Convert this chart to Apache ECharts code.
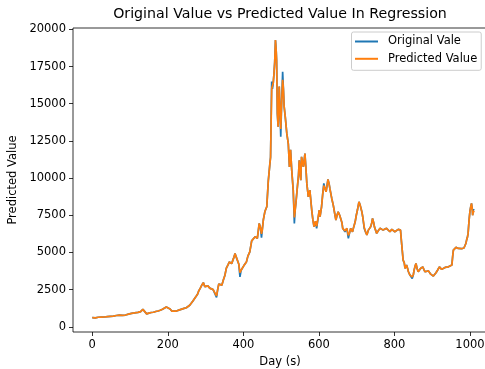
<!DOCTYPE html>
<html>
<head>
<meta charset="utf-8">
<script src="https://cdn.jsdelivr.net/npm/echarts@6/dist/echarts.min.js"></script>
<style>html,body{margin:0;padding:0;background:#fff}#c{width:485px;height:369px}</style>
</head>
<body>
<div id="c"></div>
<script>
const days = [0,8,16,24,32,40,48,56,64,72,80,88,96,104,112,121,128,134,139,144,150,156,162,168,174,180,186,191,196,201,206,211,216,221,226,231,237,243,249,254,258,262,266,270,275,279,282,286,290,294,298,302,306,311,316,320,325,329,332,335,339,343,347,351,355,359,363,369,374,378,381,384,388,391,394,398,401,404,408,412,417,422,426,431,437,440,442,445,448,450,453,457,462,466,470,472,475,477,479,481,483,485,487,488,490,492,495,497,499,501,504,506,508,511,515,519,522,525,528,532,535,537,539,543,546,548,552,554,559,563,566,568,572,576,581,584,587,591,594,598,601,603,607,610,613,616,619,624,627,629,634,638,642,645,648,651,655,658,661,663,666,669,674,678,681,684,689,692,696,699,702,706,709,711,714,716,720,724,727,731,734,737,740,742,745,747,750,753,757,762,766,770,775,779,783,788,793,797,801,806,810,813,816,819,823,826,828,832,835,837,841,844,847,850,852,855,857,860,863,866,869,872,875,878,881,885,890,893,896,900,903,906,910,914,919,922,925,930,934,938,943,948,952,954,956,960,963,966,969,972,974,978,981,984,987,989,991,993,995,997,998,1000,1002,1004,1006,1007,1009,1011];
const originalValues = [610,600,640,650,660,680,700,720,760,780,770,790,850,900,930,968,1020,1170,1020,870,920,960,980,1030,1060,1110,1180,1250,1330,1290,1200,1050,970,1050,1120,1140,1190,1240,1280,1350,1450,1560,1720,1850,2050,2200,2420,2600,2800,2970,2700,2650,2750,2600,2580,2500,2420,1980,2500,2880,2750,2800,3150,3450,3950,4150,4370,4250,4600,4930,4700,4650,4200,3360,3800,3850,4100,4000,4350,4750,5040,5780,5650,6050,5950,6550,6950,6700,6000,6500,7200,7750,8070,9800,10900,11400,16500,16000,16370,17000,17800,19280,18500,17900,14350,13450,16150,14500,12780,14800,17150,16000,14800,14100,13000,12300,10750,11900,10550,9190,6950,7800,8300,9400,10200,11200,9860,11430,10760,11650,10500,9640,8740,9190,7850,7200,6730,7100,6620,6700,7850,7400,8070,8900,9640,9300,9080,9910,9600,9300,8630,8180,7600,7170,7500,7730,7500,7620,7000,6620,6500,6390,6620,5950,6300,6620,6390,6700,7060,7500,7850,8400,8200,8070,7700,7400,6620,6350,6170,6500,6400,6720,7000,7290,7000,6720,6500,6280,6450,6620,6550,6500,6600,6620,6500,6390,6550,6550,6390,6450,6550,6480,6500,5600,4480,4300,3920,4150,3900,3700,3480,3400,3250,3500,3810,4100,4260,3900,3700,3800,3920,3950,4030,3850,3700,3650,3760,3650,3540,3500,3410,3500,3630,3800,4030,3950,3860,3950,3990,3950,4030,4050,4150,4700,5150,5250,5340,5300,5270,5350,5380,5250,5150,5300,5380,5600,5830,6000,6280,7000,7290,7800,8070,8300,7900,7500,7900,7850];
const predictedValues = [610,600,640,650,660,680,700,720,760,780,770,790,850,900,930,968,1020,1170,1020,870,920,960,980,1030,1060,1110,1180,1250,1330,1290,1200,1050,990,1050,1120,1140,1190,1240,1280,1350,1450,1560,1720,1850,2050,2200,2420,2600,2800,2970,2700,2650,2750,2600,2580,2500,2420,2080,2500,2880,2750,2800,3150,3450,3950,4150,4370,4250,4600,4930,4700,4650,4200,3650,3800,3850,4100,4000,4350,4750,5040,5780,5650,6050,5950,6550,6950,6700,6250,6500,7200,7750,8070,9800,10900,11400,16000,16000,16370,17000,17800,19280,18500,17900,14350,13450,16150,14500,13300,14800,16600,16000,14800,14100,13000,12300,10750,11900,10550,9190,7350,7800,8300,9400,10200,11200,9860,11430,10760,11650,10500,9640,8740,9190,7850,7200,6730,7100,6750,6700,7850,7400,8070,8900,9500,9300,9080,9910,9600,9300,8630,8180,7600,7170,7500,7730,7500,7620,7000,6620,6500,6450,6620,6150,6300,6620,6390,6700,7060,7500,7850,8400,8200,8070,7700,7400,6700,6350,6170,6500,6400,6720,7000,7290,7000,6720,6500,6280,6450,6620,6550,6500,6600,6620,6500,6390,6550,6550,6390,6450,6550,6480,6500,5600,4480,4300,3920,4150,3900,3700,3480,3400,3350,3500,3810,4100,4260,3900,3700,3800,3920,3950,4030,3850,3700,3650,3760,3650,3540,3500,3410,3500,3630,3800,4030,3950,3860,3950,3990,3950,4030,4050,4150,4700,5150,5250,5340,5300,5270,5350,5380,5250,5150,5300,5380,5600,5830,6000,6280,7000,7290,7800,8070,8300,7900,7500,7800,7700];
const xTicks = [0,200,400,600,800,1000];
const yTicks = [0,2500,5000,7500,10000,12500,15000,17500,20000];
const seriesNames = ['Original Vale','Predicted Value'];

const chart = echarts.init(document.getElementById('c'), null, {renderer:'canvas'});
const font = 'DejaVu Sans';
chart.setOption({
  animation: false,
  backgroundColor: '#fff',
  title: {
    text: 'Original Value vs Predicted Value In Regression',
    left: 280, top: 7, padding: 0, textAlign: 'center',
    textStyle: {fontFamily: font, fontSize: 14.2, fontWeight: 'normal', color: '#000'}
  },
  legend: {
    data: seriesNames,
    orient: 'vertical',
    left: 351.5, top: 32,
    padding: [3, 4, 5, 3.5],
    itemGap: 4.3,
    itemWidth: 23, itemHeight: 2,
    icon: 'rect',
    backgroundColor: 'rgba(255,255,255,0.8)',
    borderColor: '#cccccc', borderWidth: 1, borderRadius: 2,
    textStyle: {fontFamily: font, fontSize: 11.5, color: '#000', lineHeight: 13, padding: [0,0,0,5]}
  },
  grid: {left: 73, top: 28, width: 414, height: 304, show: true, borderColor: '#000', borderWidth: 0.8,
         containLabel: false, outerBoundsMode: 'none'},
  xAxis: {
    type: 'value', min: -51, max: 1045,
    name: 'Day (s)', nameLocation: 'middle', nameGap: 29,
    nameTextStyle: {fontFamily: font, fontSize: 11.5, color: '#000', verticalAlign: 'middle'},
    axisLine: {show: false, onZero: false},
    axisTick: {show: true, inside: false, length: 4, customValues: xTicks, lineStyle: {color: '#000', width: 0.8}},
    axisLabel: {customValues: xTicks, margin: 7, fontFamily: font, fontSize: 11.5, color: '#000', formatter: v => String(v)},
    splitLine: {show: false}
  },
  yAxis: {
    type: 'value', min: -350, max: 20090,
    name: 'Predicted Value', nameLocation: 'middle', nameGap: 54, nameRotate: 90,
    nameTextStyle: {fontFamily: font, fontSize: 11.5, color: '#000', verticalAlign: 'middle'},
    axisLine: {show: false, onZero: false},
    axisTick: {show: true, inside: false, length: 4, customValues: yTicks, lineStyle: {color: '#000', width: 0.8}},
    axisLabel: {customValues: yTicks, margin: 7, fontFamily: font, fontSize: 11.5, color: '#000', formatter: v => String(v)},
    splitLine: {show: false}
  },
  series: [
    {name: seriesNames[0], type: 'line', showSymbol: false, symbol: 'none', color: '#1f77b4',
     lineStyle: {width: 1.7, color: '#1f77b4'}, data: days.map((d,i)=>[d, originalValues[i]])},
    {name: seriesNames[1], type: 'line', showSymbol: false, symbol: 'none', color: '#ff7f0e',
     lineStyle: {width: 1.7, color: '#ff7f0e'}, data: days.map((d,i)=>[d, predictedValues[i]])}
  ]
});
</script>
</body>
</html>
